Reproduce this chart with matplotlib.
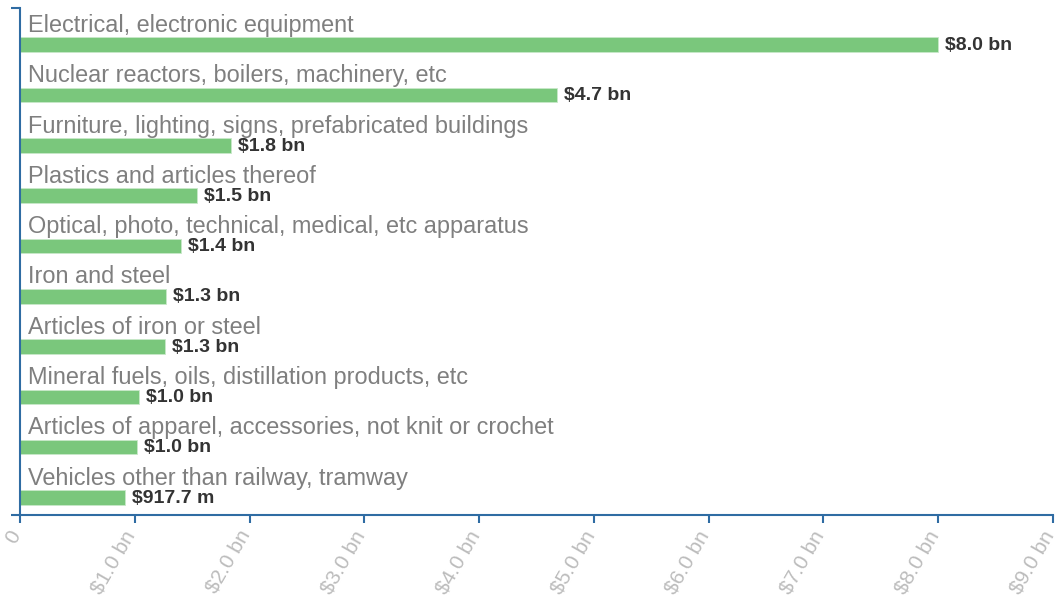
import matplotlib
matplotlib.use("Agg")
import matplotlib.pyplot as plt
from matplotlib.ticker import FuncFormatter
from matplotlib.transforms import ScaledTranslation

categories = [
    "Electrical, electronic equipment",
    "Nuclear reactors, boilers, machinery, etc",
    "Furniture, lighting, signs, prefabricated buildings",
    "Plastics and articles thereof",
    "Optical, photo, technical, medical, etc apparatus",
    "Iron and steel",
    "Articles of iron or steel",
    "Mineral fuels, oils, distillation products, etc",
    "Articles of apparel, accessories, not knit or crochet",
    "Vehicles other than railway, tramway",
]
values_bn = [8.0, 4.68, 1.84, 1.54, 1.40, 1.27, 1.26, 1.04, 1.02, 0.9177]
value_labels = ["$8.0 bn", "$4.7 bn", "$1.8 bn", "$1.5 bn", "$1.4 bn",
                "$1.3 bn", "$1.3 bn", "$1.0 bn", "$1.0 bn", "$917.7 m"]
x_ticks = [0, 1, 2, 3, 4, 5, 6, 7, 8, 9]

plt.rcParams['font.family'] = ['Liberation Sans', 'DejaVu Sans']

W, H = 1059, 608
fig = plt.figure(figsize=(W / 100, H / 100), dpi=100)
ax = fig.add_axes([20 / W, (H - 515) / H, (1053 - 20) / W, (515 - 8) / H])

axis_color = "#2f6ca3"
bar_color = "#7ac77c"

n = len(categories)
ys = list(range(n))
ax.barh(ys, values_bn, height=0.29, color=bar_color,
        edgecolor="#c9e8ca", linewidth=0.6)

for y, cat, v, lab in zip(ys, categories, values_bn, value_labels):
    ax.text(0.07, y - 0.255, cat, fontsize=16.9, color="#7f7f7f",
            va="baseline", ha="left")
    ax.annotate(lab, xy=(v, y), xytext=(5, -0.5), textcoords="offset points",
                fontsize=14, fontweight="bold", color="#333333",
                va="center", ha="left")

ax.set_ylim(9.348, -0.73)
ax.set_xlim(0, 9)
ax.set_xticks(x_ticks)
ax.xaxis.set_major_formatter(FuncFormatter(lambda x, p: "0" if x == 0 else f"${x:.1f} bn"))
ax.set_yticks([9.348, -0.73])
ax.set_yticklabels([])
ax.tick_params(axis="y", direction="out", length=6.5, width=1.5, color=axis_color)
ax.tick_params(axis="x", direction="out", length=6, width=1.5, color=axis_color,
               labelsize=15, labelcolor="#bcbcbc", pad=6)
shift = ScaledTranslation(-3.5 / 100, 0, fig.dpi_scale_trans)
for t in ax.xaxis.get_major_ticks():
    lbl = t.label1
    lbl.set_rotation(60)
    lbl.set_ha("right")
    lbl.set_va("center")
    lbl.set_rotation_mode("anchor")
    lbl.set_transform(lbl.get_transform() + shift)

for s in ["top", "right"]:
    ax.spines[s].set_visible(False)
for s in ["left", "bottom"]:
    ax.spines[s].set_color(axis_color)
    ax.spines[s].set_linewidth(1.5)

fig.savefig("out.png", dpi=100)
